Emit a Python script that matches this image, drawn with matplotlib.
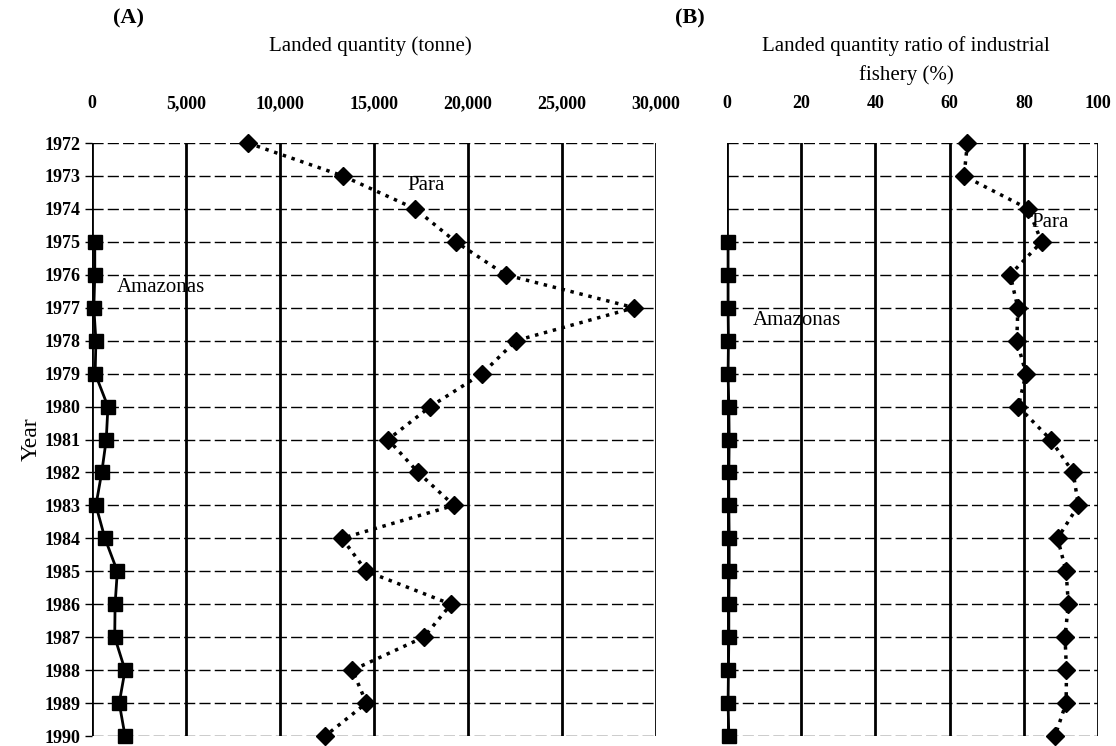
import matplotlib
matplotlib.use('Agg')
import matplotlib.pyplot as plt
from matplotlib.ticker import FuncFormatter

plt.rcParams['font.family'] = ['Liberation Serif', 'DejaVu Serif']

years = list(range(1972, 1991))
years_amz = list(range(1975, 1991))

# (A) landed quantity, tonne
para_qty = [8300, 13350, 17200, 19350, 22000, 28850, 22550, 20750, 18000,
            15750, 17350, 19250, 13300, 14600, 19100, 17650, 13850, 14600, 12400]
amz_qty = [150, 150, 100, 210, 170, 850, 760, 520, 210, 690, 1350, 1230,
           1210, 1760, 1450, 1760]

# (B) landed quantity ratio of industrial fishery, %
para_ratio = [64.8, 63.9, 81.2, 84.8, 76.3, 78.4, 78.1, 80.6, 78.5, 87.2,
              93.3, 94.7, 89.1, 91.4, 92.0, 91.1, 91.5, 91.4, 88.4]
amz_ratio = [0.3, 0.3, 0.3, 0.4, 0.3, 0.5, 0.6, 0.5, 0.5, 0.6, 0.6, 0.5,
             0.5, 0.4, 0.3, 0.5]

fig = plt.figure(figsize=(11.16, 7.46), dpi=100)
axA = fig.add_axes([0.0824, 0.0134, 0.5054, 0.7949])
axB = fig.add_axes([0.6514, 0.0134, 0.3325, 0.7949])


def style(ax, xmax, step, show_years):
    ax.set_xlim(0, xmax)
    ax.set_ylim(1990, 1972)
    ax.set_xticks(range(0, xmax + 1, step))
    ax.set_yticks(years)
    ax.xaxis.tick_top()
    ax.tick_params(axis='x', length=0, labelsize=13, pad=22)
    if show_years:
        ax.tick_params(axis='y', length=5, width=1, labelsize=13, pad=3)
    else:
        ax.tick_params(axis='y', length=0, labelleft=False)
    for lab in ax.get_xticklabels() + ax.get_yticklabels():
        lab.set_fontweight('bold')
    for s in ax.spines.values():
        s.set_visible(False)
    for v in range(0, xmax + 1, step):
        ax.axvline(v, color='black', lw=2, zorder=1)
    for y in years:
        ax.axhline(y, color='black', lw=1, ls=(0, (8, 3)), zorder=1)


style(axA, 30000, 5000, True)
axA.xaxis.set_major_formatter(FuncFormatter(lambda v, p: f'{int(v):,}'))
for lab in axA.get_xticklabels():
    lab.set_fontweight('bold')
axA.plot(para_qty, years, ls=':', lw=2.5, color='black', marker='D',
         markersize=9, zorder=3, clip_on=False)
axA.plot(amz_qty, years_amz, ls='-', lw=2, color='black', marker='s',
         markersize=10, zorder=3, clip_on=False)
axA.text(16800, 1973.3, 'Para', fontsize=15, ha='left', va='center')
axA.text(1300, 1976.4, 'Amazonas', fontsize=15, ha='left', va='center')
axA.set_ylabel('Year', fontsize=17, labelpad=2)

style(axB, 100, 20, False)
axB.plot(para_ratio, years, ls=':', lw=2.5, color='black', marker='D',
         markersize=9, zorder=3, clip_on=False)
axB.plot(amz_ratio, years_amz, ls='-', lw=2, color='black', marker='s',
         markersize=10, zorder=3, clip_on=False)
axB.text(82, 1974.4, 'Para', fontsize=15, ha='left', va='center')
axB.text(7, 1977.4, 'Amazonas', fontsize=15, ha='left', va='center')

fig.text(0.115, 0.975, '(A)', fontsize=16, ha='center', va='center', fontweight='bold')
fig.text(0.332, 0.938, 'Landed quantity (tonne)', fontsize=15, ha='center', va='center')
fig.text(0.618, 0.975, '(B)', fontsize=16, ha='center', va='center', fontweight='bold')
fig.text(0.812, 0.919, 'Landed quantity ratio of industrial\nfishery (%)', fontsize=15,
         ha='center', va='center', linespacing=1.6)

fig.savefig('out.png', dpi=100)
